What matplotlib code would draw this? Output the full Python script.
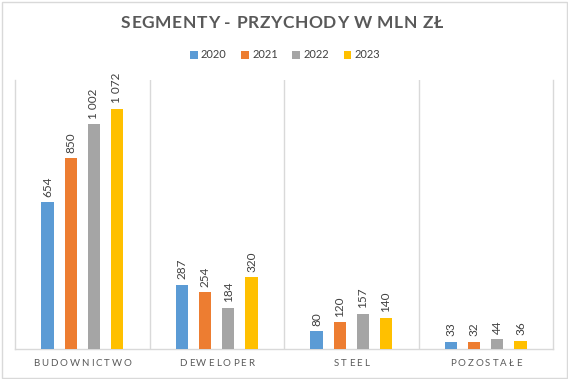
import matplotlib
matplotlib.use("Agg")
import matplotlib.pyplot as plt
from matplotlib.patches import Rectangle
from matplotlib.textpath import TextToPath
from matplotlib.font_manager import FontProperties
import numpy as np

categories = ["BUDOWNICTWO", "DEWELOPER", "STEEL", "POZOSTAŁE"]
years = ["2020", "2021", "2022", "2023"]
values = {
    "2020": [654, 287, 80, 33],
    "2021": [850, 254, 120, 32],
    "2022": [1002, 184, 157, 44],
    "2023": [1072, 320, 140, 36],
}
colors = ["#5B9BD5", "#ED7D31", "#A5A5A5", "#FFC000"]
title = "SEGMENTY - PRZYCHODY W MLN ZŁ"

FONT = "Lato"
DPI = 100
W, H = 568, 379
fig = plt.figure(figsize=(W / DPI, H / DPI), dpi=DPI)
fig.patch.set_facecolor("white")

# outer border
fig.add_artist(Rectangle((1.5 / W, 1.5 / H), 1 - 3 / W, 1 - 3 / H, transform=fig.transFigure,
                         fill=False, edgecolor="#D9D9D9", linewidth=1.0))

ax = fig.add_axes([15 / W, 30 / H, (553 - 15) / W, (349 - 80) / H])
ax.set_xlim(-0.5, len(categories) - 0.5)
ax.set_ylim(0, 1200)

x = np.arange(len(categories))
step = 0.172
width = 0.09
for i, y in enumerate(years):
    xs = x + (i - 1.5) * step
    bars = ax.bar(xs, values[y], width=width, color=colors[i], label=y, zorder=3)
    for b, v in zip(bars, values[y]):
        s = f"{v:,}".replace(",", " ")
        ax.annotate(s, (b.get_x() + b.get_width() / 2, b.get_height()),
                    xytext=(0, 4), textcoords="offset points", rotation=90,
                    ha="center", va="bottom", fontsize=8.5, color="#404040", family=FONT)

for xv in np.arange(0.5, len(categories) - 0.5, 1):
    ax.axvline(xv, color="#D9D9D9", linewidth=1.0, zorder=1)
for sp in ["left", "right", "bottom"]:
    ax.spines[sp].set_color("#D9D9D9")
    ax.spines[sp].set_linewidth(1.0)
ax.spines["top"].set_visible(False)
ax.set_xticks([])
ax.set_yticks([])

ttp = TextToPath()


def spaced_text(s, xc, yc, size, spacing_px, color, weight="normal"):
    prop = FontProperties(family=FONT, size=size, weight=weight)
    widths = []
    for ch in s:
        w, h, d = ttp.get_text_width_height_descent(ch, prop, ismath=False)
        widths.append(w * DPI / 72.0)
    total = sum(widths) + spacing_px * (len(s) - 1)
    cur = xc - total / 2
    for ch, w in zip(s, widths):
        fig.text(cur / W, 1 - yc / H, ch, fontproperties=prop, color=color,
                 ha="left", va="center")
        cur += w + spacing_px


spaced_text(title, 282, 23, 12.5, 0.6, "#595959", weight="bold")

cat_centers_px = [15 + (i + 0.5) * (553 - 15) / len(categories) for i in range(len(categories))]
for c, cx in zip(categories, cat_centers_px):
    spaced_text(c, cx, 363, 7, 2.0, "#595959")

leg = fig.legend(loc="center", bbox_to_anchor=(285 / W, 1 - 55 / H), ncol=4, frameon=False,
                 handlelength=0.7, handleheight=0.7, handletextpad=0.3, columnspacing=1.3,
                 prop=FontProperties(family=FONT, size=8))
for t in leg.get_texts():
    t.set_color("#404040")

fig.savefig("out.png", dpi=DPI)
